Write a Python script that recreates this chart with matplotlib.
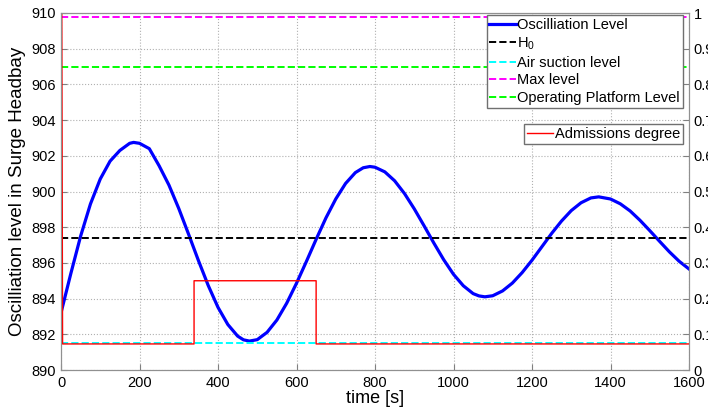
import matplotlib
matplotlib.use("Agg")
import matplotlib.pyplot as plt

plt.rcParams['font.family'] = ['Liberation Sans', 'DejaVu Sans']
plt.rcParams['mathtext.fontset'] = 'custom'
plt.rcParams['mathtext.rm'] = 'Liberation Sans'

# oscillation level
t_osc = [0, 25, 50, 75, 100, 125, 150, 175, 185, 200, 225, 250, 275, 300, 325, 350, 375, 400,
         425, 450, 465, 480,
         500, 525, 550, 575, 600, 625, 650, 675, 700, 725, 750, 770, 787,
         800, 825, 850, 875, 900, 925, 950, 975, 1000, 1025, 1050, 1065, 1080,
         1100, 1125, 1150, 1175, 1200, 1225, 1250, 1275, 1300, 1325, 1350, 1370,
         1400, 1425, 1450, 1475, 1500, 1525, 1550, 1575, 1600]
level = [893.2, 895.4, 897.5, 899.3, 900.7, 901.7, 902.3, 902.7, 902.75, 902.7, 902.4, 901.44,
         900.36, 899.05, 897.61, 896.14, 894.74, 893.51, 892.55, 891.9, 891.69, 891.62,
         891.7, 892.11, 892.8, 893.74, 894.86, 896.07, 897.32, 898.52, 899.58, 900.45,
         901.06, 901.33, 901.4,
         901.36, 901.1, 900.6, 899.89, 899.03, 898.08, 897.11, 896.18, 895.36, 894.72,
         894.28, 894.15, 894.1,
         894.16, 894.43, 894.87, 895.46, 896.15, 896.9, 897.65, 898.34, 898.93, 899.37,
         899.64, 899.7,
         899.58, 899.31, 898.91, 898.39, 897.81, 897.21, 896.62, 896.09, 895.66]

H0 = 897.4
air_suction = 891.5
max_level = 909.8
platform = 907.0

# admissions degree (right axis)
t_adm = [0, 2, 4, 339, 339, 650, 650, 1600]
adm = [1.0, 1.0, 0.073, 0.073, 0.25, 0.25, 0.073, 0.073]

fig = plt.figure(figsize=(7.08, 4.12), dpi=100)
ax1 = fig.add_axes([61 / 708, 1 - 370 / 412, 628 / 708, 357 / 412])
ax2 = ax1.twinx()

h1, = ax1.plot(t_osc, level, color='#0000ff', lw=2.3, solid_joinstyle='round',
               label='Oscilliation Level')
h2, = ax1.plot([0, 1600], [H0, H0], '--', color='black', lw=1.4, label='H$_0$')
h3, = ax1.plot([0, 1600], [air_suction, air_suction], '--', color='#00ffff', lw=1.4,
               label='Air suction level')
h4, = ax1.plot([0, 1600], [max_level, max_level], '--', color='#ff00ff', lw=1.4,
               label='Max level')
h5, = ax1.plot([0, 1600], [platform, platform], '--', color='#00ff00', lw=1.4,
               label='Operating Platform Level')

h6, = ax2.plot(t_adm, adm, color='red', lw=1.0, label='Admissions degree')

ax1.set_xlim(0, 1600)
ax1.set_ylim(890, 910)
ax2.set_ylim(0, 1)
ax1.set_xticks(range(0, 1601, 200))
ax1.set_yticks(range(890, 911, 2))
ax2.set_yticks([i / 10 for i in range(11)])
ax2.set_yticklabels(['0'] + ['%.1f' % (i / 10) for i in range(1, 10)] + ['1'])

ax1.grid(True, linestyle=':', color='#b0b0b0', lw=0.8)
for ax in (ax1, ax2):
    ax.tick_params(direction='in', labelsize=10.5, color='#808080', length=4)
    for s in ax.spines.values():
        s.set_color('#909090')
ax1.tick_params(axis='x', pad=4)

ax1.set_xlabel('time [s]', fontsize=13, labelpad=0)
ax1.set_ylabel('Oscilliation level in Surge Headbay', fontsize=13.5, labelpad=4)

leg1 = ax2.legend(handles=[h1, h2, h3, h4, h5], loc='upper right', bbox_to_anchor=(0.99, 0.995),
                  fontsize=10.5, handlelength=1.8, handletextpad=0.1, borderpad=0.2,
                  labelspacing=0.25, borderaxespad=0, fancybox=False, framealpha=1,
                  edgecolor='#707070')
ax2.add_artist(leg1)
ax2.legend(handles=[h6], loc='upper right', bbox_to_anchor=(0.99, 0.689),
           fontsize=10.5, handlelength=1.8, handletextpad=0.1, borderpad=0.2,
           borderaxespad=0, fancybox=False, framealpha=1, edgecolor='#707070')

fig.savefig('out.png', dpi=100)
